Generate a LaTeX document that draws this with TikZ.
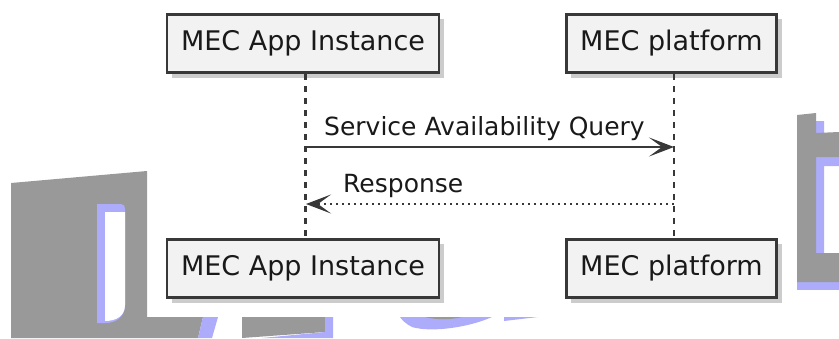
\documentclass[tikz,border=0pt]{standalone}
\usepackage{fontspec}
\setmainfont{DejaVu Sans}
\usetikzlibrary{arrows.meta, positioning, shadows}
\definecolor{borde}{RGB}{56,56,56}
\definecolor{relleno}{RGB}{242,242,242}
\definecolor{marca}{RGB}{153,153,153}
\definecolor{marcaazul}{RGB}{172,172,250}
\tikzset{
    x=1pt, y=-1pt, % coordenadas en pixeles
    participante/.style={draw=borde, line width=2.6pt, fill=relleno, inner xsep=14pt, minimum height=58.4pt,
        font=\fontsize{27}{32}\selectfont, text=black!90,
        drop shadow={shadow xshift=5pt, shadow yshift=-5pt, fill=black, opacity=.2}}, % cajas de los participantes
    vida/.style={draw=borde, line width=2.2pt, dash pattern=on 6pt off 6pt}, % lineas de vida
    mensaje/.style={draw=borde, line width=2.4pt, -{Stealth[length=25pt, width=19pt, inset=13pt]}},
    respuesta/.style={mensaje, dash pattern=on 2.5pt off 3.5pt},
    etiqueta/.style={font=\fontsize{25}{30}\selectfont, text=black!90, inner sep=0pt, anchor=base west}
}
\begin{document}
\begin{tikzpicture}
		\useasboundingbox (0,0) rectangle (839,338);

		% Marca de agua
		\fill[marca] (11,183) -- (147,171) -- (147,317) -- (203,317) -- (198,338) -- (11,338) -- cycle;
		\fill[marcaazul] (203,317) -- (218,317) -- (212,338) -- (198,338) -- cycle;
		\fill[marcaazul] (97,204) -- (121,204) .. controls (124,204) and (125,206) .. (125,209) -- (125,305)
			.. controls (125,318) and (115,323) .. (105,323) -- (97,323) -- cycle;
		\fill[white] (105,212) -- (125,212) -- (125,305) .. controls (125,316) and (116,321) .. (105,321) -- cycle;
		\fill[marca] (242,317) -- (325,317) -- (325,332) -- (242,338) -- cycle;
		\fill[marcaazul] (325,317) -- (333,317) -- (333,338) -- (262,338) -- (325,332) -- cycle;
		\fill[marcaazul] (400,317) -- (492,317) .. controls (470,327) and (432,333) .. (412,327)
			.. controls (406,324) and (402,320) .. (400,317);
		\fill[marca] (425,317) -- (462,317) .. controls (450,320) and (436,320) .. (425,317);
		\fill[marcaazul] (504,317) -- (538,317) -- (504,321) -- cycle;
		\fill[marcaazul] (816,121) -- (824,121) -- (824,157) -- (839,157) -- (839,166) -- (824,166) -- (824,253) -- (816,253) -- cycle;
		\fill[marcaazul] (797,282) -- (839,282) -- (839,290) -- (797,290) -- cycle;
		\fill[marca] (797,115) -- (816,113) -- (816,133) -- (839,132) -- (839,157) -- (816,157) -- (816,253)
			-- (839,253) -- (839,282) -- (797,282) -- cycle;

		% Participantes
		\node[participante] (AI) at (303,43.5) {MEC App Instance};
		\node[participante] (PL) at (671.5,43.5) {MEC platform};
		\node[participante, below=164pt of AI] (AIb) {MEC App Instance};
		\node[participante, below=164pt of PL] (PLb) {MEC platform};

		% Lineas de vida
		\draw[vida] ([xshift=2.5pt]AI.south) -- ([xshift=2.5pt]AIb.north);
		\draw[vida] ([xshift=2.5pt]PL.south) -- ([xshift=2.5pt]PLb.north);
		\coordinate (q1) at (306,147);
		\coordinate (q2) at (674,147);
		\coordinate (r1) at (674,204);
		\coordinate (r2) at (306,204);

		% Mensajes
		\draw[mensaje] (q1) -- (q2) node[etiqueta, pos=0, xshift=17pt, yshift=12pt] {Service Availability Query};
		\draw[respuesta] (r1) -- (r2) node[etiqueta, pos=1, xshift=36pt, yshift=12pt] {Response};
	\end{tikzpicture}
\end{document}
